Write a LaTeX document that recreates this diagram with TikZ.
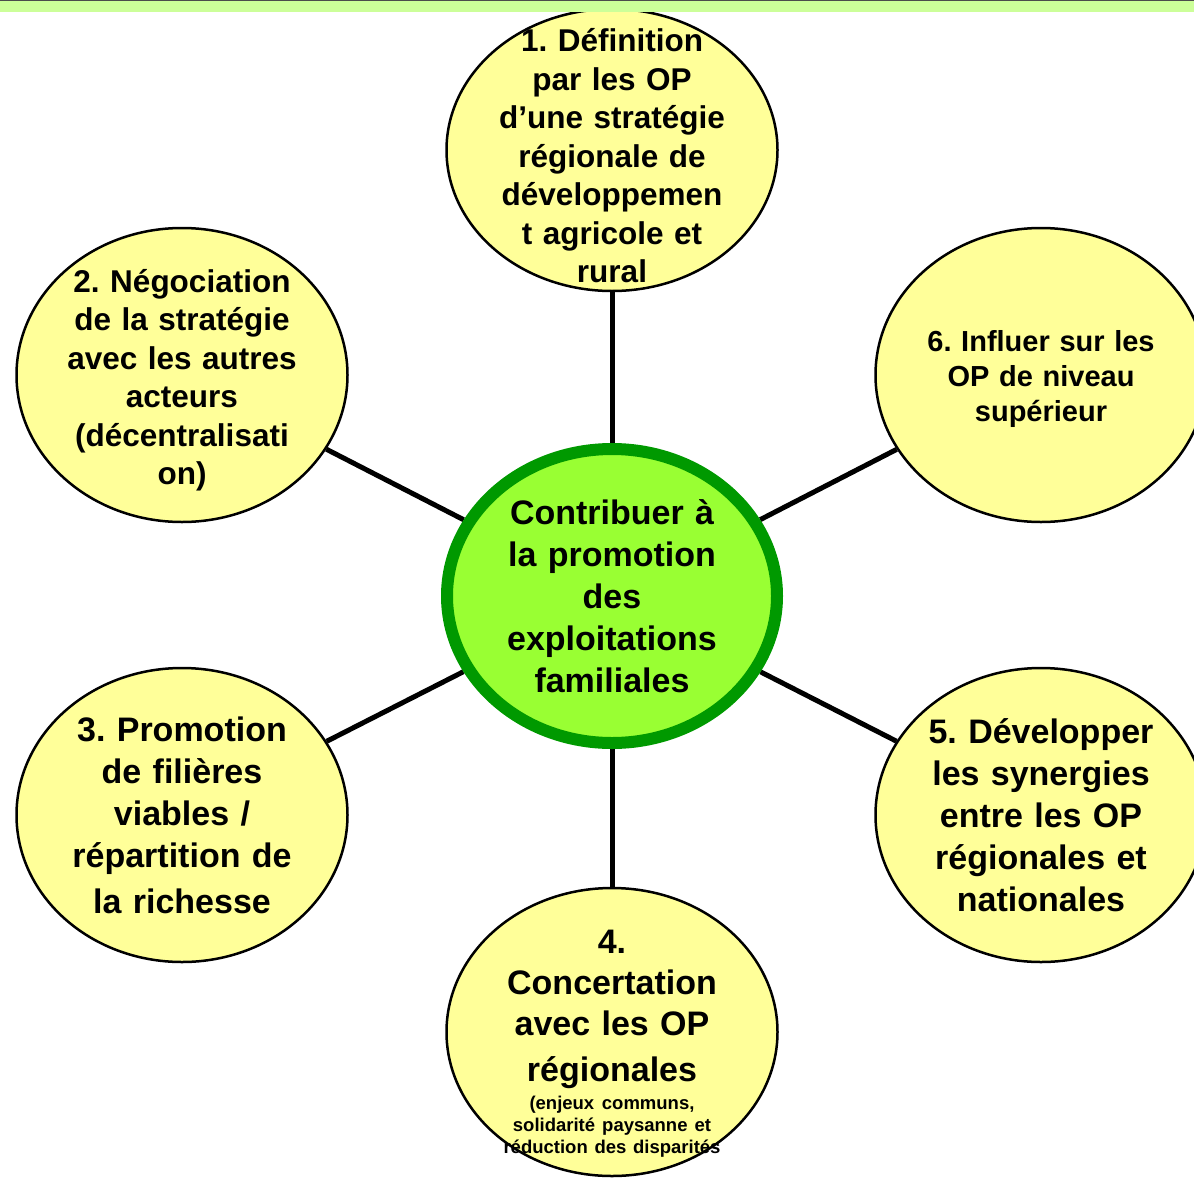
\documentclass[tikz,border=0pt]{standalone}
\usepackage{fontspec}
\setmainfont{Liberation Sans}
\usepackage{tikz}
\usepackage{xcolor}
\usetikzlibrary{shapes,shapes.geometric,backgrounds}
\definecolor{petalfill}{RGB}{255, 255, 153}
\definecolor{hubfill}{RGB}{153, 255, 51}
\definecolor{hubline}{RGB}{0, 153, 0}
\definecolor{band}{RGB}{204, 255, 153}
\frenchspacing
\tikzstyle{petal} = [
    ellipse,
    draw=black,
    line width=2.5pt,
    fill=petalfill,
    minimum width=331pt,
    minimum height=294pt,
    inner xsep=-40pt,
    inner ysep=-60pt,
    text width=300pt,
    align=center
]
\tikzstyle{hub} = [
    ellipse,
    draw=hubline,
    line width=12pt,
    fill=hubfill,
    minimum width=330pt,
    minimum height=294pt,
    inner xsep=-40pt,
    inner ysep=-60pt,
    text width=300pt,
    align=center,
    font=\bfseries\fontsize{34}{42}\selectfont
]
\tikzstyle{spoke} = [
    line width=5pt,
    draw=black
]

\begin{document}
\begin{tikzpicture}[x=1pt, y=-1pt]
    \useasboundingbox (0,0) rectangle (1194,1178);
    \clip (0,0) rectangle (1194,1178);

    \node[hub] (hub) at (612,596) {Contribuer à\\la promotion\\des\\exploitations\\familiales};

    \node[petal, minimum height=282pt, font=\bfseries\fontsize{31.5}{38.5}\selectfont] (strat) at (612,150)
        {\rule{0pt}{35pt}1. Définition\\par les OP\\d’une stratégie\\régionale de\\développemen\\t agricole et\\rural};
    \node[petal, font=\bfseries\fontsize{31.5}{38.5}\selectfont] (nego) at (182,375)
        {\rule{0pt}{34pt}2. Négociation\\de la stratégie\\avec les autres\\acteurs\\(décentralisati\\on)};
    \node[petal, font=\bfseries\fontsize{34}{42}\selectfont] (fil) at (182,815)
        {3. Promotion\\de filières\\viables /\\répartition de\\[4pt]la richesse};
    \node[petal, minimum height=288pt, font=\bfseries\fontsize{34}{41}\selectfont] (conc) at (612,1032)
        {\rule{0pt}{46pt}4.\\Concertation\\avec les OP\\[5pt]régionales\par
         \vspace{6pt}{\fontsize{18.5}{22}\selectfont\spaceskip=0pt (enjeux communs,\\solidarité paysanne et\\réduction des disparités\par}};
    \node[petal, font=\bfseries\fontsize{34}{42}\selectfont] (syn) at (1041,815)
        {5. Développer\\les synergies\\entre les OP\\régionales et\\nationales};
    \node[petal, font=\bfseries\fontsize{29}{35}\selectfont] (infl) at (1041,375)
        {\rule{0pt}{29pt}6. Influer sur les\\OP de niveau\\supérieur};

    \begin{scope}[on background layer]
        \draw[spoke] (hub) -- (strat);
        \draw[spoke] (hub) -- (nego);
        \draw[spoke] (hub) -- (fil);
        \draw[spoke] (hub) -- (conc);
        \draw[spoke] (hub) -- (syn);
        \draw[spoke] (hub) -- (infl);
    \end{scope}

    % bande du haut
    \fill[band] (0,0) rectangle (1194,12);
    \draw[black!70, line width=1.2pt] (0,0.6) -- (1194,0.6);
\end{tikzpicture}
\end{document}
